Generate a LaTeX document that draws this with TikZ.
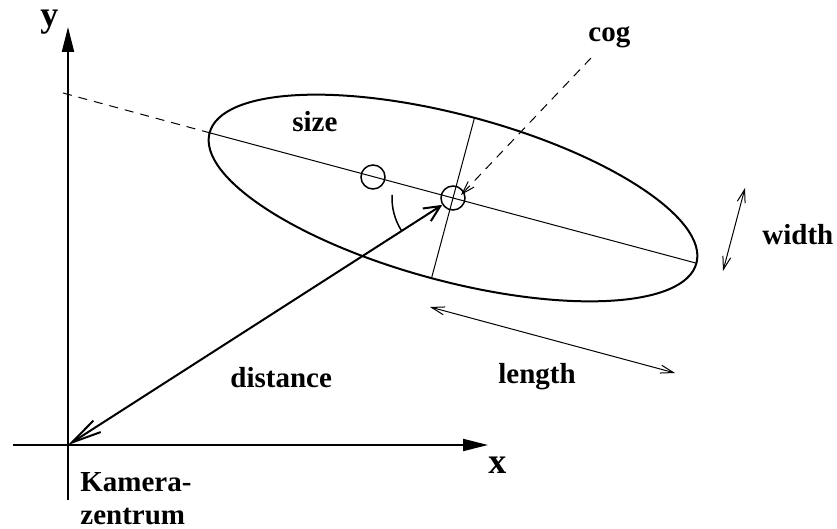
\documentclass[tikz,border=0pt]{standalone}
\usepackage{fontspec}
\setmainfont{Liberation Serif}
\usetikzlibrary{arrows.meta}

\begin{document}
\begin{tikzpicture}[x=0.5pt, y=-0.5pt,
        lbl/.style={font=\fontsize{14.5}{17}\selectfont\bfseries, inner sep=0pt, anchor=base west},
        axlbl/.style={lbl, font=\fontsize{18}{20}\selectfont\bfseries},
        thinline/.style={line width=0.5pt},
        boldline/.style={line width=1pt},
        axis/.style={line width=1pt, -{Triangle[length=12.5pt, width=6pt]}},
        dashline/.style={line width=0.5pt, dash pattern=on 4.5pt off 3.5pt},
        ring/.style={circle, draw, line width=0.75pt, minimum size=12pt, inner sep=0pt},
        barb/.tip={Straight Barb[length=6.5pt, width=4pt]}]
        \useasboundingbox (0,0) rectangle (837,529);
%
        \coordinate (O) at (68,445);
        \coordinate (ybot) at (68,500);
        \coordinate (ytop) at (68,27);
        \coordinate (xleft) at (13,445);
        \coordinate (xright) at (488,445);
        \coordinate (cog) at (453,198);
        \coordinate (majL) at (209.6,132.8);
        \coordinate (majR) at (696.4,263.2);
        \coordinate (minT) at (474.5,117.8);
        \coordinate (minB) at (431.5,278.2);
        \coordinate (dashend) at (63,93);
        \coordinate (cogtail) at (591,58);
        \coordinate (wtop) at (745,188);
        \coordinate (wbot) at (723,271);
        \coordinate (lleft) at (430,307);
        \coordinate (lright) at (675,373);
%
        \node[ring] (cogc) at (cog) {};
        \node[ring] (sizec) at (373,177) {};
%
        \node[axlbl] (ylab) at (40,27) {y};
        \node[axlbl] (xlab) at (488,474) {x};
        \node[lbl] (coglab) at (588,42) {cog};
        \node[lbl] (sizelab) at (292,132) {size};
        \node[lbl] (widthlab) at (762,245) {width};
        \node[lbl] (lengthlab) at (498,384) {length};
        \node[lbl] (distlab) at (230,388) {distance};
        \node[lbl] (cam) at (80,492) {Kamera-};
        \node[lbl] (camb) at (80,525) {zentrum};
%
        \draw[axis] (ybot) -- (ytop);
        \draw[axis] (xleft) -- (xright);
%
        \draw[boldline, rotate around={-15:(cog)}] (cog) ellipse [x radius=126pt, y radius=41.5pt];
        \draw[thinline] (majL) -- (majR);
        \draw[thinline] (minT) -- (minB);
        \draw[dashline] (dashend) -- (majL);
%
        \draw[boldline, {Straight Barb[length=8pt, width=7.5pt]}-{Straight Barb[length=15pt, width=6.8pt]}] (cogc) -- (O);
        \draw[line width=0.75pt] (cog) ++(177:30.5pt) arc[start angle=177, end angle=212, radius=30.5pt];
        \draw[dashline, -barb] (cogtail) -- ([shift={(4pt,1.5pt)}]cogc.center);
        \draw[thinline, barb-barb] (wtop) -- (wbot);
        \draw[thinline, barb-barb] (lleft) -- (lright);
\end{tikzpicture}
\end{document}
